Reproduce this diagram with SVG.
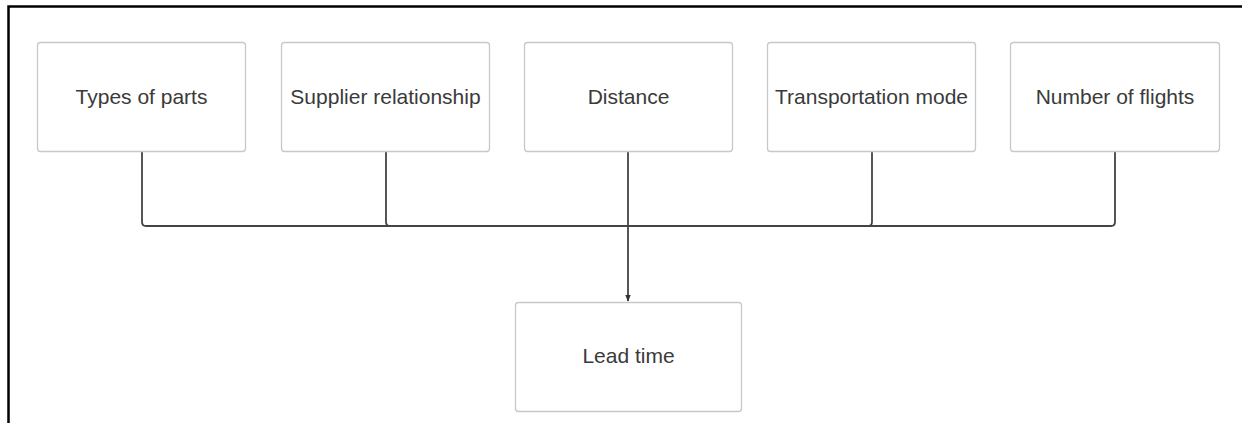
<svg xmlns="http://www.w3.org/2000/svg" width="1242" height="423" viewBox="0 0 1242 423">
  <style>
    .box { fill: #ffffff; stroke: #c8c8c8; stroke-width: 1.3; }
    .label { font-family: "Liberation Sans", Arial, sans-serif; font-size: 21px; fill: #3a3a3a; text-anchor: middle; dominant-baseline: central; }
    .wire { fill: none; stroke: #444444; stroke-width: 1.8; }
    .frame { fill: none; stroke: #000000; stroke-width: 2.5; }
  </style>
  <defs>
    <marker id="arrow" viewBox="0 0 10 10" refX="9" refY="5" markerWidth="7" markerHeight="7" orient="auto" markerUnits="userSpaceOnUse">
      <path d="M0,1 L10,5 L0,9 z" fill="#333333"/>
    </marker>
  </defs>

  <!-- page frame: top and left edges -->
  <path class="frame" d="M8.5,423 V6.5 H1242"/>

  <!-- connectors -->
  <g id="connectors">
    <path class="wire" d="M142,151 V222 Q142,226 146,226 H1111 Q1115,226 1115,222 V151"/>
    <path class="wire" d="M386,151 V222 Q386,226 390,226"/>
    <path class="wire" d="M872,151 V222 Q872,226 868,226"/>
    <path class="wire" d="M628,151 V226"/>
    <path class="wire" d="M628,226 V301" marker-end="url(#arrow)"/>
  </g>

  <g id="node-types-of-parts">
    <rect class="box" x="37.5" y="42.5" width="208" height="109" rx="3"/>
    <text class="label" x="141.5" y="96">Types of parts</text>
  </g>
  <g id="node-supplier-relationship">
    <rect class="box" x="281.5" y="42.5" width="208" height="109" rx="3"/>
    <text class="label" x="385.5" y="96">Supplier relationship</text>
  </g>
  <g id="node-distance">
    <rect class="box" x="524.5" y="42.5" width="208" height="109" rx="3"/>
    <text class="label" x="628.5" y="96">Distance</text>
  </g>
  <g id="node-transportation-mode">
    <rect class="box" x="767.5" y="42.5" width="208" height="109" rx="3"/>
    <text class="label" x="871.5" y="96">Transportation mode</text>
  </g>
  <g id="node-number-of-flights">
    <rect class="box" x="1010.5" y="42.5" width="209" height="109" rx="3"/>
    <text class="label" x="1115" y="96">Number of flights</text>
  </g>
  <g id="node-lead-time">
    <rect class="box" x="515.5" y="302.5" width="226" height="109" rx="3"/>
    <text class="label" x="628.5" y="355">Lead time</text>
  </g>
</svg>
